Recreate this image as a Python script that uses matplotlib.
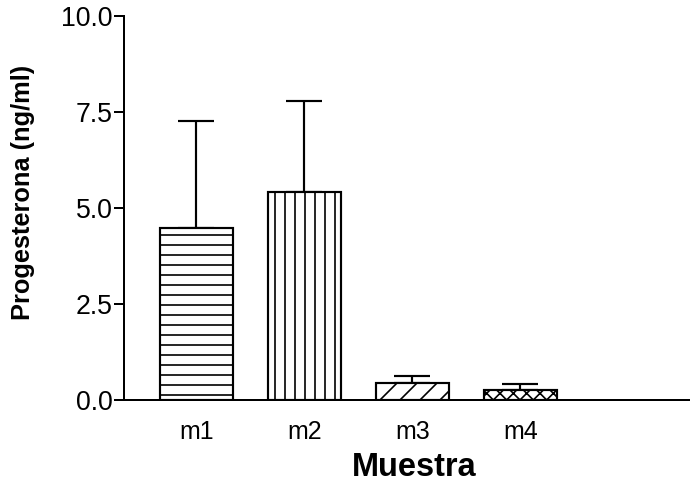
import matplotlib
matplotlib.use("Agg")
import matplotlib.pyplot as plt
import numpy as np

categories = ["m1", "m2", "m3", "m4"]
means = [4.48, 5.42, 0.43, 0.27]
errors = [2.79, 2.37, 0.20, 0.15]
hatches = ["--", "||", "//", "xxx"]
yticks = [0.0, 2.5, 5.0, 7.5, 10.0]

DPI = 120
plt.rcParams["font.family"] = ["Liberation Sans", "DejaVu Sans"]
plt.rcParams["hatch.linewidth"] = 1.0
plt.rcParams["hatch.color"] = "black"

fig = plt.figure(figsize=(690 / DPI, 484 / DPI), dpi=DPI)
ax = fig.add_axes([124 / 690, 1 - 400 / 484, 1 - 124 / 690, (400 - 16) / 484])

x = np.arange(len(categories))
ax.errorbar(x, means, yerr=[np.zeros(len(errors)), errors], fmt="none",
            ecolor="black", elinewidth=1.3, capsize=11, capthick=1.3, zorder=1)
for xi, m, h in zip(x, means, hatches):
    ax.bar(xi, m, width=0.676, color="white", edgecolor="black",
           linewidth=1.3, hatch=h, zorder=2)

ax.set_xlim(-0.67, 4.57)
ax.set_ylim(0, 10)
ax.set_yticks(yticks)
ax.set_yticklabels([f"{v:.1f}" for v in yticks])
ax.set_xticks(x)
ax.set_xticklabels(categories)
ax.tick_params(axis="y", direction="out", length=6, width=1.2, labelsize=16, pad=1)
ax.tick_params(axis="x", length=0, labelsize=15, pad=12)
for s in ["top", "right"]:
    ax.spines[s].set_visible(False)
for s in ["left", "bottom"]:
    ax.spines[s].set_linewidth(1.2)

ax.set_xlabel("Muestra", fontsize=19.5, fontweight="bold", labelpad=5)
ax.xaxis.label.set_x(0.512)
ax.set_ylabel("Progesterona (ng/ml)", fontsize=15.2, fontweight="bold")
ax.yaxis.set_label_coords(-0.157, 0.54)

fig.savefig("out.png", dpi=DPI)
